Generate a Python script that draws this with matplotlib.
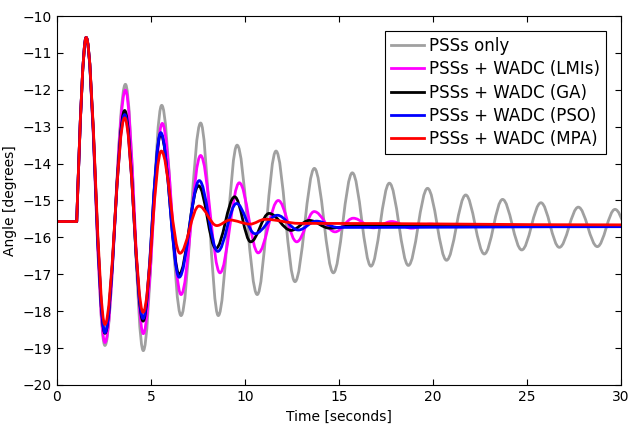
import matplotlib
matplotlib.use('Agg')
import matplotlib.pyplot as plt
from matplotlib.path import Path
from matplotlib.patches import PathPatch
from matplotlib.lines import Line2D

# extrema (time in s, angle in degrees)
t_pss = [0, 1.05, 1.55, 2.55, 3.64, 4.59, 5.57, 6.6, 7.64, 8.58, 9.58, 10.65, 11.65, 12.66,
         13.69, 14.7, 15.71, 16.7, 17.68, 18.69, 19.71, 20.72, 21.74, 22.73, 23.7, 24.72,
         25.74, 26.72, 27.73, 28.74, 29.68, 30.7]
a_pss = [-15.57, -15.57, -10.58, -18.93, -11.85, -19.07, -12.42, -18.12, -12.9, -18.12, -13.5,
         -17.55, -13.66, -17.2, -14.13, -16.96, -14.25, -16.78, -14.53, -16.76, -14.67, -16.62,
         -14.85, -16.45, -14.97, -16.34, -15.06, -16.27, -15.18, -16.25, -15.24, -16.2]

t_lmi = [0, 1.05, 1.55, 2.55, 3.64, 4.59, 5.6, 6.6, 7.64, 8.67, 9.7, 10.7, 11.77, 12.75,
         13.68, 14.79, 15.76, 16.83, 17.8, 18.86, 19.84, 20.9, 30]
a_lmi = [-15.57, -15.57, -10.58, -18.85, -12.01, -18.61, -12.91, -17.55, -13.78, -16.96, -14.52,
         -16.42, -15.0, -16.12, -15.3, -15.85, -15.48, -15.74, -15.57, -15.75, -15.64, -15.71, -15.7]

t_ga = [0, 1.05, 1.55, 2.55, 3.6, 4.58, 5.52, 6.5, 7.53, 8.45, 9.45, 10.3, 11.28, 12.45,
        13.42, 14.5, 16.0, 30]
a_ga = [-15.57, -15.57, -10.58, -18.6, -12.56, -18.27, -13.2, -17.0, -14.6, -16.3, -14.9,
        -16.12, -15.35, -15.81, -15.54, -15.75, -15.67, -15.69]

t_pso = [0, 1.05, 1.55, 2.55, 3.6, 4.58, 5.52, 6.5, 7.57, 8.55, 9.55, 10.53, 11.72, 12.84,
         13.8, 14.95, 30]
a_pso = [-15.57, -15.57, -10.58, -18.58, -12.67, -18.2, -13.16, -17.08, -14.46, -16.38, -15.08,
         -15.9, -15.4, -15.8, -15.56, -15.73, -15.71]

t_mpa = [0, 1.05, 1.55, 2.55, 3.6, 4.58, 5.55, 6.54, 7.55, 8.5, 9.2, 10.27, 11.07, 12.9, 30]
a_mpa = [-15.57, -15.57, -10.58, -18.36, -12.76, -18.03, -13.66, -16.43, -15.15, -15.68, -15.53,
         -15.64, -15.51, -15.62, -15.66]

labels = ['PSSs only', 'PSSs + WADC (LMIs)', 'PSSs + WADC (GA)',
          'PSSs + WADC (PSO)', 'PSSs + WADC (MPA)']
colors = ['#a0a0a0', '#ff00ff', '#000000', '#0000ff', '#ff0000']


def curve(ts, vs):
    # flat start, steep rise after the kink, then smooth swings between extrema
    verts = [(ts[0], vs[0]), (ts[1], vs[1])]
    codes = [Path.MOVETO, Path.LINETO]
    t0, v0, t1, v1 = ts[1], vs[1], ts[2], vs[2]
    dt = t1 - t0
    verts += [(t0 + dt / 3, v0 + 0.52 * (v1 - v0)), (t1 - 0.3 * dt, v1), (t1, v1)]
    codes += [Path.CURVE4] * 3
    for i in range(2, len(ts) - 1):
        t0, v0, t1, v1 = ts[i], vs[i], ts[i + 1], vs[i + 1]
        k = 0.36 * (t1 - t0)
        verts += [(t0 + k, v0), (t1 - k, v1), (t1, v1)]
        codes += [Path.CURVE4] * 3
    return Path(verts, codes)


fig = plt.figure(figsize=(6.29, 4.36), dpi=100)
ax = fig.add_axes([0.0906, 0.117, 0.8967, 0.8463])

series = [(t_pss, a_pss), (t_lmi, a_lmi), (t_ga, a_ga), (t_pso, a_pso), (t_mpa, a_mpa)]
for (ts, vs), c in zip(series, colors):
    ax.add_patch(PathPatch(curve(ts, vs), fill=False, edgecolor=c, lw=2.0,
                           joinstyle='round', capstyle='butt'))

ax.set_xlim(0, 30)
ax.set_ylim(-20, -10)
ax.set_xticks(range(0, 31, 5))
ax.set_yticks(range(-20, -9))
ax.tick_params(direction='in', top=True, right=True, length=4.5, labelsize=10)
ax.set_xlabel('Time [seconds]', fontsize=10)
ax.set_ylabel('Angle [degrees]', fontsize=10)

handles = [Line2D([], [], color=c, lw=2.0) for c in colors]
leg = ax.legend(handles, labels, loc='upper right', fontsize=12, frameon=True,
                fancybox=False, framealpha=1, edgecolor='black', handlelength=2.0,
                handletextpad=0.3, labelspacing=0.32, borderpad=0.35, borderaxespad=0.9)
leg.get_frame().set_linewidth(0.8)

fig.savefig('out.png', dpi=100)
